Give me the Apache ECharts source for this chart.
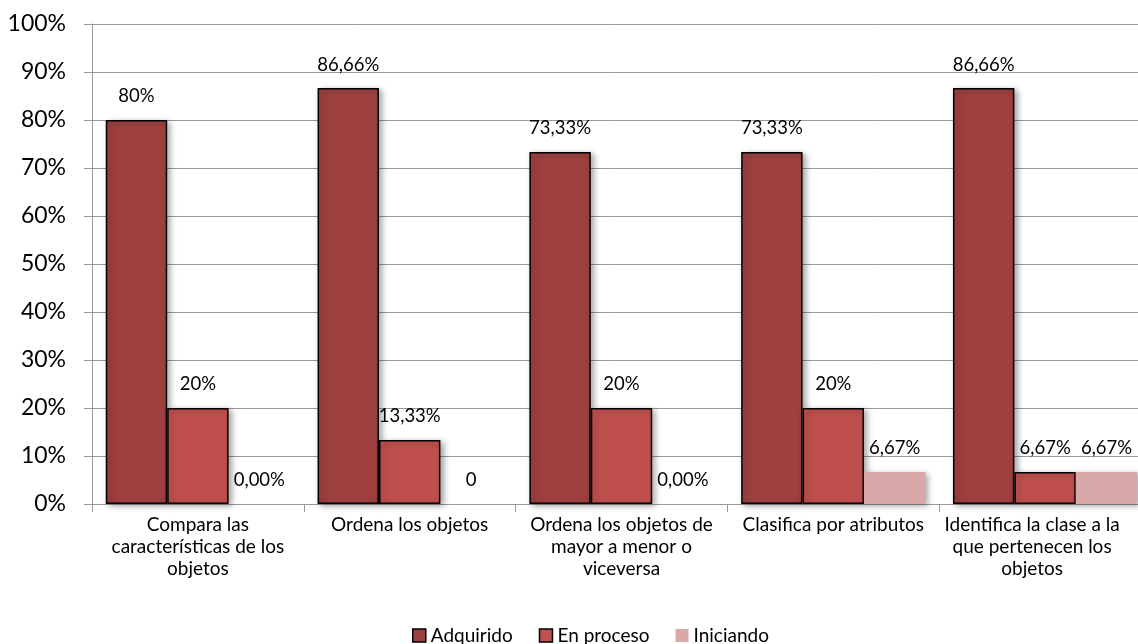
<!DOCTYPE html>
<html>
<head>
<meta charset="utf-8">
<script src="https://cdn.jsdelivr.net/npm/echarts@6/dist/echarts.min.js"></script>
<style>
  html, body { margin: 0; padding: 0; background: #fff; overflow: hidden; }
  #chart { width: 1138px; height: 644px; }
</style>
</head>
<body>
<div id="chart"></div>
<script>
// Category names, wrapped as they appear under the axis
const categories = [
  'Compara las\ncaracterísticas de los\nobjetos',
  'Ordena los objetos',
  'Ordena los objetos de\nmayor a menor o\nviceversa',
  'Clasifica por atributos',
  'Identifica la clase a la\nque pertenecen los\nobjetos'
];

const seriesNames = ['Adquirido', 'En proceso', 'Iniciando'];

// Percent values per series
const adquirido = [80, 86.66, 73.33, 73.33, 86.66];
const enProceso = [20, 13.33, 20, 20, 6.67];
const iniciando = [0, 0, 0, 6.67, 6.67];

// Label text shown above each bar
const adquiridoLabels = ['80%', '86,66%', '73,33%', '73,33%', '86,66%'];
const enProcesoLabels = ['20%', '13,33%', '20%', '20%', '6,67%'];
const iniciandoLabels = ['0,00%', '0', '0,00%', '6,67%', '6,67%'];

const yTicks = ['0%', '10%', '20%', '30%', '40%', '50%', '60%', '70%', '80%', '90%', '100%'];

const FONT = 'Lato';

function makeSeries(name, values, labels, color, bordered) {
  return {
    name: name,
    type: 'bar',
    data: values,
    barGap: '0%',
    barCategoryGap: '13%',
    itemStyle: {
      color: color,
      borderColor: bordered ? '#000' : color,
      borderWidth: bordered ? 1.5 : 0,
      shadowColor: 'rgba(0,0,0,0.35)',
      shadowBlur: 6,
      shadowOffsetX: 3,
      shadowOffsetY: 2
    },
    label: {
      show: true,
      position: 'top',
      distance: 14,
      fontFamily: FONT,
      fontSize: 18.5,
      color: '#000',
      formatter: p => labels[p.dataIndex]
    }
  };
}

// The last category label is kept inside the canvas, so pull it left a little
const categoryItems = categories.map((c, i) =>
  i === categories.length - 1 ? { value: c, textStyle: { padding: [0, 26, 0, 0] } } : c
);

const chart = echarts.init(document.getElementById('chart'));
chart.setOption({
  animation: false,
  backgroundColor: '#fff',
  // the plot area runs a little past the right edge of the canvas
  grid: {
    left: 92, width: 1059, top: 24, bottom: 140,
    containLabel: false,
    outerBoundsMode: 'none'
  },
  legend: {
    bottom: -6,
    left: 407,
    itemWidth: 13,
    itemHeight: 13,
    itemGap: 26,
    textStyle: { fontFamily: FONT, fontSize: 19, color: '#000' },
    data: seriesNames.map((n, i) => ({
      name: n,
      icon: 'rect',
      itemStyle: i < 2 ? { borderColor: '#000', borderWidth: 1.5 } : { borderWidth: 0 }
    }))
  },
  xAxis: {
    type: 'category',
    data: categoryItems,
    axisLine: { lineStyle: { color: '#999', width: 1 } },
    axisTick: { show: true, length: 8, lineStyle: { color: '#999' } },
    axisLabel: {
      interval: 0,
      margin: 10,
      fontFamily: FONT,
      fontSize: 19,
      color: '#000',
      lineHeight: 22
    }
  },
  yAxis: {
    type: 'value',
    min: 0,
    max: 100,
    interval: 10,
    axisLine: { show: true, lineStyle: { color: '#999', width: 1 } },
    axisTick: { show: true, length: 8, lineStyle: { color: '#999' } },
    splitLine: { lineStyle: { color: '#999', width: 1 } },
    axisLabel: {
      margin: 26,
      fontFamily: FONT,
      fontSize: 23,
      color: '#000',
      formatter: v => yTicks[Math.round(v / 10)]
    }
  },
  series: [
    makeSeries(seriesNames[0], adquirido, adquiridoLabels, '#9E4040', true),
    makeSeries(seriesNames[1], enProceso, enProcesoLabels, '#C0504D', true),
    makeSeries(seriesNames[2], iniciando, iniciandoLabels, '#D9A8A8', false)
  ]
});
</script>
</body>
</html>
